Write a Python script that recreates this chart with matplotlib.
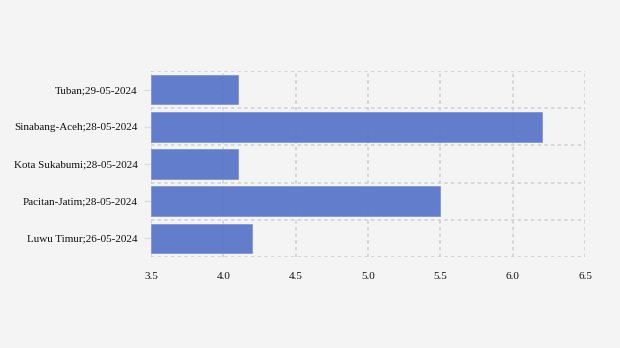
import matplotlib
matplotlib.use("Agg")
import matplotlib.pyplot as plt
from matplotlib.ticker import FixedLocator

# data (bottom to top)
places = ["Luwu Timur;26-05-2024", "Pacitan-Jatim;28-05-2024", "Kota Sukabumi;28-05-2024",
          "Sinabang-Aceh;28-05-2024", "Tuban;29-05-2024"]
magnitudes = [4.2, 5.5, 4.1, 6.2, 4.1]
x_ticks = [3.5, 4.0, 4.5, 5.0, 5.5, 6.0, 6.5]

plt.rcParams["font.family"] = ["Liberation Serif", "DejaVu Serif"]

bg = "#f4f4f4"
fig = plt.figure(figsize=(6.2, 3.48), dpi=100, facecolor=bg)
ax = fig.add_axes([151 / 620, 1 - 257 / 348, 434 / 620, 186 / 348], facecolor=bg)

y = list(range(len(places)))
ax.barh(y, [m - 3.5 for m in magnitudes], left=3.5, height=0.8,
        color="#5a77c9", alpha=0.95, edgecolor="#7d93d4", linewidth=0.6, zorder=2)

ax.set_xlim(3.5, 6.5)
ax.set_ylim(-0.5, len(places) - 0.5)
ax.set_xticks(x_ticks)
ax.set_xticklabels([f"{t:.1f}" for t in x_ticks])
ax.set_yticks(y)
ax.set_yticklabels(places)
ax.yaxis.set_minor_locator(FixedLocator([i - 0.5 for i in range(len(places) + 1)]))

ax.set_axisbelow(True)
ax.grid(axis="x", which="major", color="#d2d2d2", linestyle=(0, (2, 2)), linewidth=1.2)
ax.grid(axis="y", which="minor", color="#d2d2d2", linestyle=(0, (2, 2)), linewidth=1.2)

for s in ax.spines.values():
    s.set_visible(False)
ax.tick_params(axis="x", length=0, pad=11, labelsize=8, colors="#111111")
ax.tick_params(axis="y", which="major", length=5, width=1, color="#dddddd", pad=4.5, labelsize=8, labelcolor="#111111")
ax.tick_params(axis="y", which="minor", length=0)

fig.savefig("out.png", dpi=100, facecolor=bg)
